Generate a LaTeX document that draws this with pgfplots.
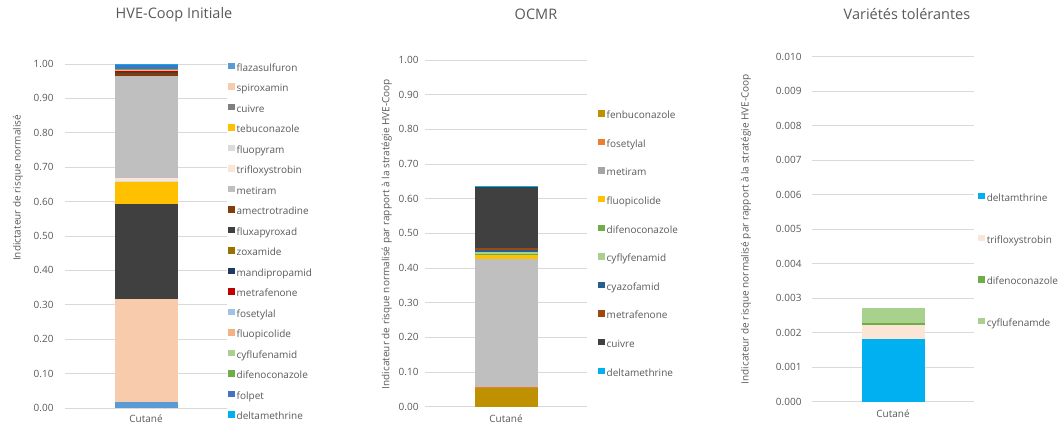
\documentclass[border=0pt]{standalone}
\usepackage{fontspec}
\setmainfont{Open Sans}
\usepackage{pgfplots}
\pgfplotsset{compat=1.18}
\definecolor{txt}{HTML}{595959}
\definecolor{gridc}{HTML}{D9D9D9}
\definecolor{cFlaza}{HTML}{5B9BD5}
\definecolor{cSpiro}{HTML}{F8CBAD}
\definecolor{cCuivre}{HTML}{404040}
\definecolor{cCuivreL}{HTML}{7F7F7F}
\definecolor{cTebu}{HTML}{FFC000}
\definecolor{cFluopyram}{HTML}{DBDBDB}
\definecolor{cTriflo}{HTML}{FBE5D6}
\definecolor{cMetiram}{HTML}{BFBFBF}
\definecolor{cMetiramL}{HTML}{A5A5A5}
\definecolor{cAmec}{HTML}{843C0C}
\definecolor{cFluxa}{HTML}{404040}
\definecolor{cZox}{HTML}{997300}
\definecolor{cMandi}{HTML}{203864}
\definecolor{cMetra}{HTML}{C00000}
\definecolor{cFose}{HTML}{9DC3E6}
\definecolor{cFluopico}{HTML}{F4B183}
\definecolor{cCyflu}{HTML}{A9D18E}
\definecolor{cDifeno}{HTML}{70AD47}
\definecolor{cFolpet}{HTML}{4472C4}
\definecolor{cDelta}{HTML}{00B0F0}
\definecolor{cFenbu}{HTML}{BF9000}
\definecolor{cFoseB}{HTML}{ED7D31}
\definecolor{cCyazo}{HTML}{255E91}
\definecolor{cMetraB}{HTML}{9E480E}
\pgfplotsset{
  panel/.style={
    scale only axis, width=162pt, anchor=south west,
    ybar stacked, bar width=63pt,
    xmin=-1, xmax=1, xtick={0}, xticklabels={Cutané},
    axis line style={draw=none}, major tick length=0pt, tick style={draw=none},
    ymajorgrids, grid style={gridc, line width=0.8pt},
    ymin=0,
    tick label style={font=\fontsize{10}{12}\selectfont, text=txt},
    xticklabel style={yshift=-5pt},
    /pgf/number format/assume math mode=true,
    legend style={draw=none, fill=none, anchor=north west, inner sep=0pt,
      font=\fontsize{10}{11}\selectfont, text=txt,
      nodes={inner xsep=2pt, inner ysep=0pt, text height=7pt, text depth=2pt}},
    legend cell align=left,
    title style={font=\fontsize{14.5}{16}\selectfont, text=txt, anchor=center},
    ylabel style={font=\fontsize{10}{12}\selectfont, text=txt, anchor=center},
  },
  seg/.style={fill=#1, draw=none, legend image code/.code={\fill[##1] (0pt,-0.5pt) rectangle (6.5pt,6pt);}},
  segL/.style 2 args={fill=#1, draw=none, legend image code/.code={\fill[#2] (0pt,-0.5pt) rectangle (6.5pt,6pt);}},
}
\begin{document}
\begin{tikzpicture}
\path[use as bounding box] (0pt,0pt) rectangle (1061pt,425pt);
% Panel 1
\begin{axis}[panel, at={(65pt,17pt)}, height=344pt, ymax=1,
  ytick={0,0.1,0.2,0.3,0.4,0.5,0.6,0.7,0.8,0.9,1},
  yticklabel style={/pgf/number format/fixed, /pgf/number format/fixed zerofill, /pgf/number format/precision=2, xshift=-8pt},
  xticklabel style={yshift=2pt},
  title={HVE-Coop Initiale}, title style={at={(axis description cs:0.673,1.126)}},
  ylabel={Indictateur de risque normalisé}, ylabel style={at={(axis description cs:-0.29,0.64)}},
  legend style={at={(axis description cs:1.006,1.004)}, row sep=10pt}]
\addplot[seg=cFlaza] coordinates {(0,0.018)}; \addlegendentry{flazasulfuron}
\addplot[seg=cSpiro] coordinates {(0,0.300)}; \addlegendentry{spiroxamin}
\addplot[segL={cCuivre}{cCuivreL}] coordinates {(0,0.275)}; \addlegendentry{cuivre}
\addplot[seg=cTebu] coordinates {(0,0.065)}; \addlegendentry{tebuconazole}
\addplot[seg=cFluopyram] coordinates {(0,0.002)}; \addlegendentry{fluopyram}
\addplot[seg=cTriflo] coordinates {(0,0.009)}; \addlegendentry{trifloxystrobin}
\addplot[seg=cMetiram] coordinates {(0,0.296)}; \addlegendentry{metiram}
\addplot[seg=cAmec] coordinates {(0,0.008)}; \addlegendentry{amectrotradine}
\addplot[seg=cFluxa] coordinates {(0,0.003)}; \addlegendentry{fluxapyroxad}
\addplot[seg=cZox] coordinates {(0,0.001)}; \addlegendentry{zoxamide}
\addplot[seg=cMandi] coordinates {(0,0.001)}; \addlegendentry{mandipropamid}
\addplot[seg=cMetra] coordinates {(0,0.002)}; \addlegendentry{metrafenone}
\addplot[seg=cFose] coordinates {(0,0.001)}; \addlegendentry{fosetylal}
\addplot[seg=cFluopico] coordinates {(0,0.001)}; \addlegendentry{fluopicolide}
\addplot[seg=cCyflu] coordinates {(0,0.001)}; \addlegendentry{cyflufenamid}
\addplot[seg=cDifeno] coordinates {(0,0.001)}; \addlegendentry{difenoconazole}
\addplot[seg=cFolpet] coordinates {(0,0.014)}; \addlegendentry{folpet}
\addplot[seg=cDelta] coordinates {(0,0.002)}; \addlegendentry{deltamethrine}
\end{axis}
% Panel 2
\begin{axis}[panel, at={(425pt,18.3pt)}, height=346.7pt, ymax=1,
  ytick={0,0.1,0.2,0.3,0.4,0.5,0.6,0.7,0.8,0.9,1},
  yticklabel style={/pgf/number format/fixed, /pgf/number format/fixed zerofill, /pgf/number format/precision=2, xshift=-3pt},
  title={OCMR}, title style={at={(axis description cs:0.685,1.114)}},
  ylabel={Indicateur de risque normalisé par rapport à la stratégie HVE-Coop}, ylabel style={at={(axis description cs:-0.236,0.498)}},
  legend style={at={(axis description cs:1.068,0.856)}, row sep=18.1pt}]
\addplot[seg=cFenbu] coordinates {(0,0.055)}; \addlegendentry{fenbuconazole}
\addplot[seg=cFoseB] coordinates {(0,0.002)}; \addlegendentry{fosetylal}
\addplot[segL={cMetiram}{cMetiramL}] coordinates {(0,0.368)}; \addlegendentry{metiram}
\addplot[seg=cTebu] coordinates {(0,0.012)}; \addlegendentry{fluopicolide}
\addplot[seg=cDifeno] coordinates {(0,0.004)}; \addlegendentry{difenoconazole}
\addplot[seg=cCyflu] coordinates {(0,0.006)}; \addlegendentry{cyflyfenamid}
\addplot[seg=cCyazo] coordinates {(0,0.006)}; \addlegendentry{cyazofamid}
\addplot[seg=cMetraB] coordinates {(0,0.004)}; \addlegendentry{metrafenone}
\addplot[seg=cCuivre] coordinates {(0,0.176)}; \addlegendentry{cuivre}
\addplot[seg=cDelta] coordinates {(0,0.003)}; \addlegendentry{deltamethrine}
\end{axis}
% Panel 3
\begin{axis}[panel, at={(812pt,23.3pt)}, height=345pt, ymax=0.01,
  ytick={0,0.001,0.002,0.003,0.004,0.005,0.006,0.007,0.008,0.009,0.01},
  scaled y ticks=false,
  yticklabel style={/pgf/number format/fixed, /pgf/number format/fixed zerofill, /pgf/number format/precision=3, xshift=-7pt},
  title={Variétés tolérantes}, title style={at={(axis description cs:0.586,1.105)}},
  ylabel={Indicateur de risque normalisé par rapport à la stratégie HVE-Coop}, ylabel style={at={(axis description cs:-0.407,0.5)}},
  legend style={at={(axis description cs:1.025,0.606)}, row sep=31.2pt}]
\addplot[seg=cDelta] coordinates {(0,0.00182)}; \addlegendentry{deltamthrine}
\addplot[seg=cTriflo] coordinates {(0,0.00040)}; \addlegendentry{trifloxystrobin}
\addplot[seg=cDifeno] coordinates {(0,0.00007)}; \addlegendentry{difenoconazole}
\addplot[seg=cCyflu] coordinates {(0,0.00042)}; \addlegendentry{cyflufenamde}
\end{axis}
\end{tikzpicture}
\end{document}
